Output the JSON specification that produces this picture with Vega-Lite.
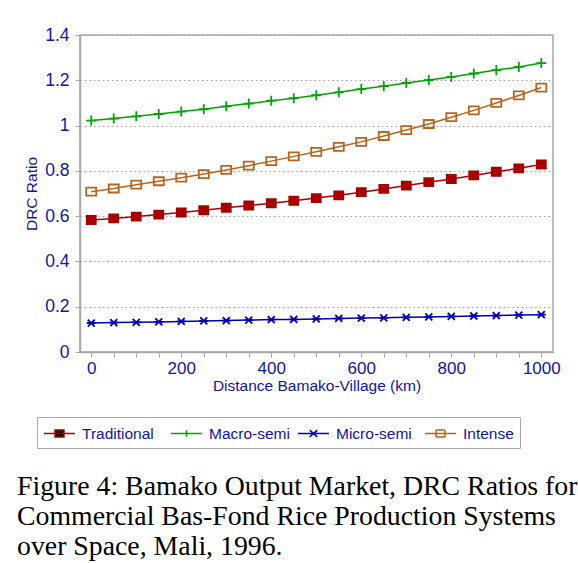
{
  "$schema": "https://vega.github.io/schema/vega-lite/v6.json",
  "width": 473,
  "height": 317,
  "autosize": "none",
  "padding": {"left": 80, "top": 35, "right": 25, "bottom": 211},
  "background": "white",
  "title": {
    "text": ["Figure 4: Bamako Output Market, DRC Ratios for", "Commercial Bas-Fond Rice Production Systems", "over Space, Mali, 1996."],
    "orient": "bottom",
    "anchor": "start",
    "frame": "group",
    "dx": -63,
    "offset": 24,
    "font": "Liberation Serif",
    "fontSize": 27.8,
    "fontWeight": "normal",
    "lineHeight": 30,
    "color": "black"
  },
  "config": {
    "view": {"stroke": "#a8a8a8", "strokeWidth": 1.5},
    "axis": {
      "labelFont": "Liberation Sans",
      "titleFont": "Liberation Sans",
      "labelColor": "#1414a0",
      "titleColor": "#1414a0",
      "titleFontWeight": "normal",
      "domainColor": "#a8a8a8",
      "domainWidth": 1.5,
      "tickColor": "#a8a8a8",
      "tickSize": 5
    }
  },
  "data": {
    "values": [
      {"km": 0, "series": "Traditional", "drc": 0.583},
      {"km": 50, "series": "Traditional", "drc": 0.590},
      {"km": 100, "series": "Traditional", "drc": 0.598},
      {"km": 150, "series": "Traditional", "drc": 0.607},
      {"km": 200, "series": "Traditional", "drc": 0.616},
      {"km": 250, "series": "Traditional", "drc": 0.626},
      {"km": 300, "series": "Traditional", "drc": 0.637},
      {"km": 350, "series": "Traditional", "drc": 0.647},
      {"km": 400, "series": "Traditional", "drc": 0.657},
      {"km": 450, "series": "Traditional", "drc": 0.668},
      {"km": 500, "series": "Traditional", "drc": 0.680},
      {"km": 550, "series": "Traditional", "drc": 0.692},
      {"km": 600, "series": "Traditional", "drc": 0.706},
      {"km": 650, "series": "Traditional", "drc": 0.720},
      {"km": 700, "series": "Traditional", "drc": 0.735},
      {"km": 750, "series": "Traditional", "drc": 0.750},
      {"km": 800, "series": "Traditional", "drc": 0.764},
      {"km": 850, "series": "Traditional", "drc": 0.780},
      {"km": 900, "series": "Traditional", "drc": 0.796},
      {"km": 950, "series": "Traditional", "drc": 0.811},
      {"km": 1000, "series": "Traditional", "drc": 0.828},
      {"km": 0, "series": "Macro-semi", "drc": 1.022},
      {"km": 50, "series": "Macro-semi", "drc": 1.031},
      {"km": 100, "series": "Macro-semi", "drc": 1.041},
      {"km": 150, "series": "Macro-semi", "drc": 1.051},
      {"km": 200, "series": "Macro-semi", "drc": 1.062},
      {"km": 250, "series": "Macro-semi", "drc": 1.072},
      {"km": 300, "series": "Macro-semi", "drc": 1.085},
      {"km": 350, "series": "Macro-semi", "drc": 1.097},
      {"km": 400, "series": "Macro-semi", "drc": 1.110},
      {"km": 450, "series": "Macro-semi", "drc": 1.121},
      {"km": 500, "series": "Macro-semi", "drc": 1.134},
      {"km": 550, "series": "Macro-semi", "drc": 1.147},
      {"km": 600, "series": "Macro-semi", "drc": 1.161},
      {"km": 650, "series": "Macro-semi", "drc": 1.174},
      {"km": 700, "series": "Macro-semi", "drc": 1.188},
      {"km": 750, "series": "Macro-semi", "drc": 1.201},
      {"km": 800, "series": "Macro-semi", "drc": 1.215},
      {"km": 850, "series": "Macro-semi", "drc": 1.230},
      {"km": 900, "series": "Macro-semi", "drc": 1.245},
      {"km": 950, "series": "Macro-semi", "drc": 1.259},
      {"km": 1000, "series": "Macro-semi", "drc": 1.276},
      {"km": 0, "series": "Micro-semi", "drc": 0.128},
      {"km": 50, "series": "Micro-semi", "drc": 0.130},
      {"km": 100, "series": "Micro-semi", "drc": 0.131},
      {"km": 150, "series": "Micro-semi", "drc": 0.133},
      {"km": 200, "series": "Micro-semi", "drc": 0.135},
      {"km": 250, "series": "Micro-semi", "drc": 0.137},
      {"km": 300, "series": "Micro-semi", "drc": 0.139},
      {"km": 350, "series": "Micro-semi", "drc": 0.141},
      {"km": 400, "series": "Micro-semi", "drc": 0.143},
      {"km": 450, "series": "Micro-semi", "drc": 0.144},
      {"km": 500, "series": "Micro-semi", "drc": 0.146},
      {"km": 550, "series": "Micro-semi", "drc": 0.148},
      {"km": 600, "series": "Micro-semi", "drc": 0.150},
      {"km": 650, "series": "Micro-semi", "drc": 0.151},
      {"km": 700, "series": "Micro-semi", "drc": 0.153},
      {"km": 750, "series": "Micro-semi", "drc": 0.155},
      {"km": 800, "series": "Micro-semi", "drc": 0.157},
      {"km": 850, "series": "Micro-semi", "drc": 0.159},
      {"km": 900, "series": "Micro-semi", "drc": 0.161},
      {"km": 950, "series": "Micro-semi", "drc": 0.163},
      {"km": 1000, "series": "Micro-semi", "drc": 0.165},
      {"km": 0, "series": "Intense", "drc": 0.708},
      {"km": 50, "series": "Intense", "drc": 0.722},
      {"km": 100, "series": "Intense", "drc": 0.739},
      {"km": 150, "series": "Intense", "drc": 0.754},
      {"km": 200, "series": "Intense", "drc": 0.770},
      {"km": 250, "series": "Intense", "drc": 0.786},
      {"km": 300, "series": "Intense", "drc": 0.804},
      {"km": 350, "series": "Intense", "drc": 0.823},
      {"km": 400, "series": "Intense", "drc": 0.843},
      {"km": 450, "series": "Intense", "drc": 0.864},
      {"km": 500, "series": "Intense", "drc": 0.884},
      {"km": 550, "series": "Intense", "drc": 0.906},
      {"km": 600, "series": "Intense", "drc": 0.928},
      {"km": 650, "series": "Intense", "drc": 0.954},
      {"km": 700, "series": "Intense", "drc": 0.980},
      {"km": 750, "series": "Intense", "drc": 1.007},
      {"km": 800, "series": "Intense", "drc": 1.037},
      {"km": 850, "series": "Intense", "drc": 1.067},
      {"km": 900, "series": "Intense", "drc": 1.100},
      {"km": 950, "series": "Intense", "drc": 1.133},
      {"km": 1000, "series": "Intense", "drc": 1.168}
    ]
  },
  "encoding": {
    "x": {
      "field": "km",
      "type": "quantitative",
      "scale": {"domain": [-25, 1026], "nice": false, "zero": false},
      "axis": {
        "title": "Distance Bamako-Village (km)",
        "titleFontSize": 15.5,
        "titlePadding": 2,
        "labelFontSize": 17,
        "labelPadding": 3,
        "grid": false,
        "values": [0, 50, 100, 150, 200, 250, 300, 350, 400, 450, 500, 550, 600, 650, 700, 750, 800, 850, 900, 950, 1000],
        "labelExpr": "datum.value % 200 === 0 ? datum.label : ''",
        "format": "d"
      }
    },
    "y": {
      "field": "drc",
      "type": "quantitative",
      "scale": {"domain": [0, 1.4], "nice": false},
      "axis": {
        "title": "DRC Ratio",
        "titleFontSize": 15.5,
        "titlePadding": 5,
        "labelFontSize": 17.5,
        "labelPadding": 6,
        "values": [0, 0.2, 0.4, 0.6, 0.8, 1, 1.2, 1.4],
        "format": "~g",
        "grid": true,
        "gridColor": "#a0a0a0",
        "gridDash": [1.5, 3],
        "gridWidth": 1
      }
    },
    "color": {
      "field": "series",
      "type": "nominal",
      "scale": {
        "domain": ["Traditional", "Macro-semi", "Micro-semi", "Intense"],
        "range": ["#a80000", "#00a400", "#0000b4", "#b8641c"]
      },
      "legend": null
    }
  },
  "layer": [
    {
      "mark": {"type": "line", "strokeWidth": 1.5}
    },
    {
      "mark": {"type": "point", "size": 100, "strokeWidth": 1.8, "opacity": 1},
      "encoding": {
        "shape": {
          "field": "series",
          "type": "nominal",
          "scale": {
            "domain": ["Traditional", "Macro-semi", "Micro-semi", "Intense"],
            "range": ["M-0.9,-0.8H0.9V0.8H-0.9Z", "M-1,0H1M0,-1V1", "M-0.9,0H0.9M-0.7,-0.7L0.7,0.7M-0.7,0.7L0.7,-0.7", "M-1,-0.8H1V0.8H-1Z"]
          },
          "legend": null
        },
        "fill": {
          "field": "series",
          "type": "nominal",
          "scale": {
            "domain": ["Traditional", "Macro-semi", "Micro-semi", "Intense"],
            "range": ["#a80000", "transparent", "transparent", "transparent"]
          },
          "legend": null
        }
      }
    },
    {
      "transform": [{"filter": "false"}],
      "mark": {"type": "point", "strokeWidth": 1.5, "opacity": 1},
      "encoding": {
        "color": {
          "field": "series",
          "type": "nominal",
          "scale": {
            "domain": ["Traditional", "Macro-semi", "Micro-semi", "Intense"],
            "range": ["#a80000", "#00a400", "#0000b4", "#b8641c"]
          },
          "legend": {
            "title": null,
            "orient": "none",
            "legendX": -43,
            "legendY": 382,
            "direction": "horizontal",
            "columns": 4,
            "gridAlign": "all",
            "columnPadding": 5,
            "padding": 6,
            "strokeColor": "#a8a8a8",
            "labelFont": "Liberation Sans",
            "labelFontSize": 15.5,
            "labelColor": "#1414a0",
            "labelOffset": 12,
            "labelExpr": "datum.label === 'Intense' ? 'Intense\u00a0\u00a0\u00a0\u00a0\u00a0\u00a0\u00a0' : datum.label",
            "symbolSize": 361,
            "symbolOffset": 6,
            "symbolStrokeWidth": 1.5,
            "symbolOpacity": 1
          }
        },
        "shape": {
          "field": "series",
          "type": "nominal",
          "scale": {
            "domain": ["Traditional", "Macro-semi", "Micro-semi", "Intense"],
            "range": ["M-1.63,0H1.63M-0.47,-0.37H0.47V0.37H-0.47Z", "M-1.63,0H1.63M0,-0.35V0.35", "M-1.63,0H1.63M-0.4,-0.35L0.4,0.35M-0.4,0.35L0.4,-0.35", "M-1.63,0H1.63M-0.47,-0.37H0.47M0.47,-0.37V0.37M0.47,0.37H-0.47M-0.47,0.37V-0.37"]
          },
          "legend": null
        },
        "fill": {
          "field": "series",
          "type": "nominal",
          "scale": {
            "domain": ["Traditional", "Macro-semi", "Micro-semi", "Intense"],
            "range": ["#a80000", "transparent", "transparent", "transparent"]
          },
          "legend": null
        }
      }
    }
  ],
  "resolve": {"scale": {"shape": "independent"}, "legend": {"color": "independent"}}
}
